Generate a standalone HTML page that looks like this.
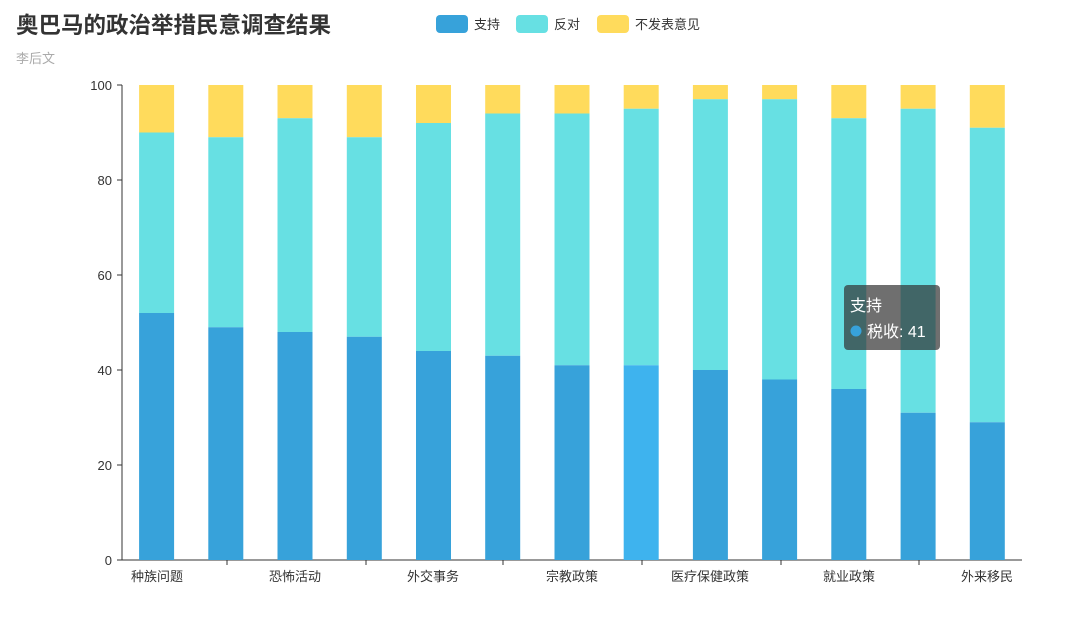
<!DOCTYPE html>
<html><head><meta charset="utf-8"><style>
body{margin:0;background:#fff;}
svg{display:block;font-family:"Liberation Sans","Noto Sans CJK SC",sans-serif;}
</style></head><body>
<svg width="1085" height="639" viewBox="0 0 1085 639">
<text x="16" y="33" font-size="22.5" font-weight="bold" fill="#333">奥巴马的政治举措民意调查结果</text>
<text x="16" y="63" font-size="13" fill="#aaa">李后文</text>
<rect x="436" y="15" width="32" height="18" rx="4" fill="#37a2da"/><text x="474" y="29" font-size="13" fill="#333">支持</text>
<rect x="516" y="15" width="32" height="18" rx="4" fill="#67e0e3"/><text x="554" y="29" font-size="13" fill="#333">反对</text>
<rect x="597" y="15" width="32" height="18" rx="4" fill="#ffdb5c"/><text x="635" y="29" font-size="13" fill="#333">不发表意见</text>
<g font-size="13" fill="#333" text-anchor="end">
<text x="112" y="565">0</text><text x="112" y="470">20</text><text x="112" y="375">40</text><text x="112" y="280">60</text><text x="112" y="185">80</text><text x="112" y="90">100</text>
</g>
<g stroke="#333"><line x1="122" y1="85" x2="122" y2="560"/><line x1="122" y1="560" x2="1022" y2="560"/>
<line x1="117" y1="85" x2="122" y2="85"/><line x1="117" y1="180" x2="122" y2="180"/><line x1="117" y1="275" x2="122" y2="275"/><line x1="117" y1="370" x2="122" y2="370"/><line x1="117" y1="465" x2="122" y2="465"/><line x1="117" y1="560" x2="122" y2="560"/>
<line x1="227" y1="560" x2="227" y2="565"/><line x1="366" y1="560" x2="366" y2="565"/><line x1="503" y1="560" x2="503" y2="565"/><line x1="642" y1="560" x2="642" y2="565"/><line x1="781" y1="560" x2="781" y2="565"/><line x1="919" y1="560" x2="919" y2="565"/>
</g>
<g font-size="13" fill="#333" text-anchor="middle">
<text x="157" y="581">种族问题</text><text x="295" y="581">恐怖活动</text><text x="433" y="581">外交事务</text><text x="572" y="581">宗教政策</text><text x="710" y="581">医疗保健政策</text><text x="849" y="581">就业政策</text><text x="987" y="581">外来移民</text>
</g>
<g>
<rect x="139.1" y="85" width="35" height="47.5" fill="#ffdb5c"/><rect x="139.1" y="132.5" width="35" height="180.5" fill="#67e0e3"/><rect x="139.1" y="313" width="35" height="247" fill="#37a2da"/>
<rect x="208.3" y="85" width="35" height="52.25" fill="#ffdb5c"/><rect x="208.3" y="137.25" width="35" height="190" fill="#67e0e3"/><rect x="208.3" y="327.25" width="35" height="232.75" fill="#37a2da"/>
<rect x="277.5" y="85" width="35" height="33.25" fill="#ffdb5c"/><rect x="277.5" y="118.25" width="35" height="213.75" fill="#67e0e3"/><rect x="277.5" y="332" width="35" height="228" fill="#37a2da"/>
<rect x="346.8" y="85" width="35" height="52.25" fill="#ffdb5c"/><rect x="346.8" y="137.25" width="35" height="199.5" fill="#67e0e3"/><rect x="346.8" y="336.75" width="35" height="223.25" fill="#37a2da"/>
<rect x="416" y="85" width="35" height="38" fill="#ffdb5c"/><rect x="416" y="123" width="35" height="228" fill="#67e0e3"/><rect x="416" y="351" width="35" height="209" fill="#37a2da"/>
<rect x="485.2" y="85" width="35" height="28.5" fill="#ffdb5c"/><rect x="485.2" y="113.5" width="35" height="242.25" fill="#67e0e3"/><rect x="485.2" y="355.75" width="35" height="204.25" fill="#37a2da"/>
<rect x="554.5" y="85" width="35" height="28.5" fill="#ffdb5c"/><rect x="554.5" y="113.5" width="35" height="251.75" fill="#67e0e3"/><rect x="554.5" y="365.25" width="35" height="194.75" fill="#37a2da"/>
<rect x="623.7" y="85" width="35" height="23.75" fill="#ffdb5c"/><rect x="623.7" y="108.75" width="35" height="256.5" fill="#67e0e3"/><rect x="623.7" y="365.25" width="35" height="194.75" fill="#3eb3ee"/>
<rect x="692.9" y="85" width="35" height="14.25" fill="#ffdb5c"/><rect x="692.9" y="99.25" width="35" height="270.75" fill="#67e0e3"/><rect x="692.9" y="370" width="35" height="190" fill="#37a2da"/>
<rect x="762.1" y="85" width="35" height="14.25" fill="#ffdb5c"/><rect x="762.1" y="99.25" width="35" height="280.25" fill="#67e0e3"/><rect x="762.1" y="379.5" width="35" height="180.5" fill="#37a2da"/>
<rect x="831.3" y="85" width="35" height="33.25" fill="#ffdb5c"/><rect x="831.3" y="118.25" width="35" height="270.75" fill="#67e0e3"/><rect x="831.3" y="389" width="35" height="171" fill="#37a2da"/>
<rect x="900.6" y="85" width="35" height="23.75" fill="#ffdb5c"/><rect x="900.6" y="108.75" width="35" height="304" fill="#67e0e3"/><rect x="900.6" y="412.75" width="35" height="147.25" fill="#37a2da"/>
<rect x="969.8" y="85" width="35" height="42.75" fill="#ffdb5c"/><rect x="969.8" y="127.75" width="35" height="294.5" fill="#67e0e3"/><rect x="969.8" y="422.25" width="35" height="137.75" fill="#37a2da"/>
</g>
<rect x="844" y="285" width="96" height="65" rx="4" fill="rgba(50,50,50,0.7)"/>
<text x="850" y="311" font-size="16" fill="#fff">支持</text>
<circle cx="856" cy="331" r="5.5" fill="#37a2da"/>
<text x="867" y="337" font-size="16" fill="#fff">税收: 41</text>
</svg>
</body></html>
